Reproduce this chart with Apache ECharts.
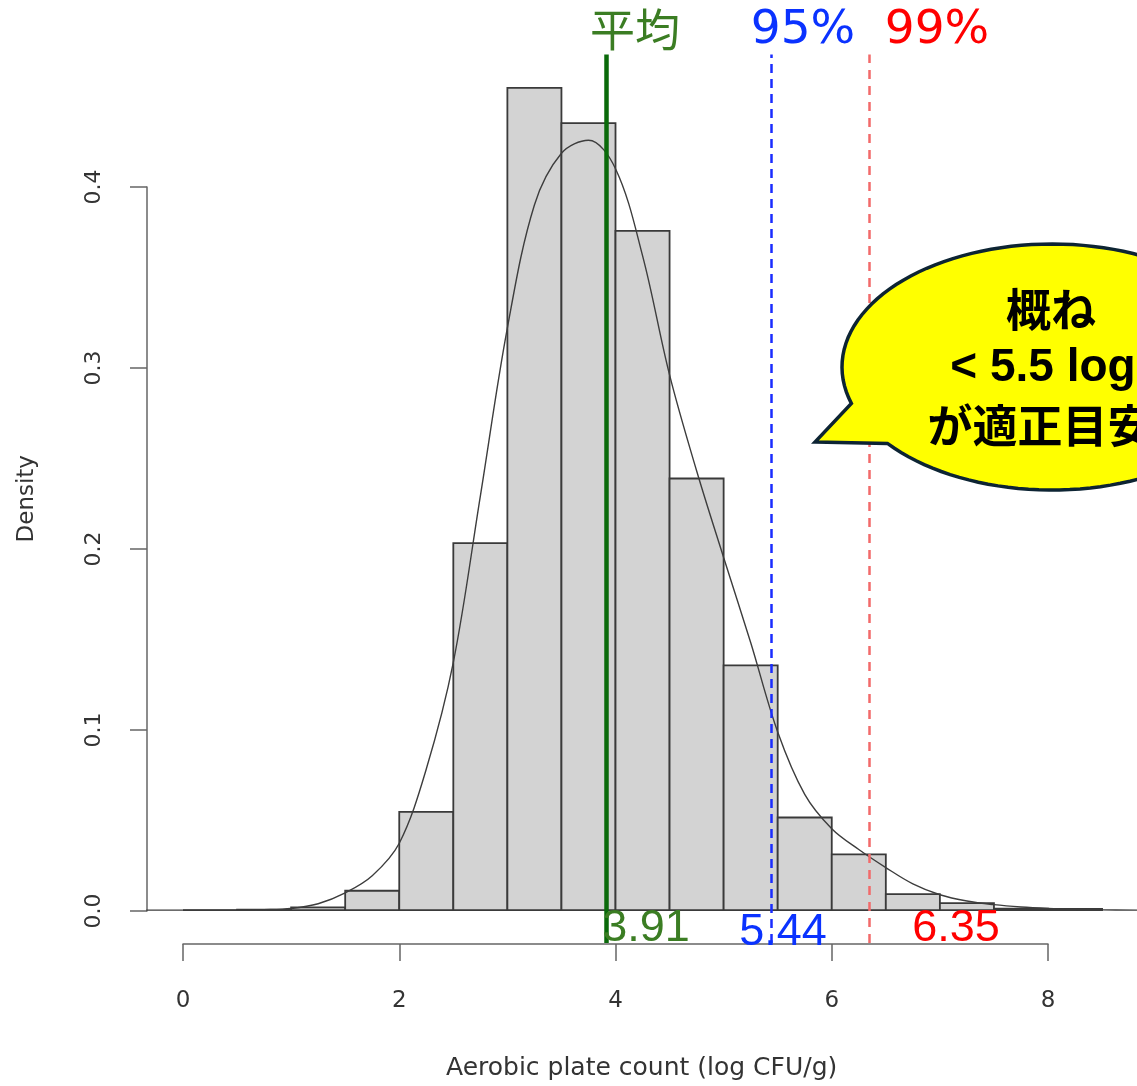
<!DOCTYPE html>
<html>
<head>
<meta charset="utf-8">
<script src="https://cdn.jsdelivr.net/npm/echarts@6/dist/echarts.min.js"></script>
<style>html,body{margin:0;padding:0;background:#fff}#c{width:1137px;height:1086px}</style>
</head>
<body>
<div id="c"></div>
<script>
// ---- data ----
const binStarts = [0, 0.5, 1.0, 1.5, 2.0, 2.5, 3.0, 3.5, 4.0, 4.5, 5.0, 5.5, 6.0, 6.5, 7.0, 7.5, 8.0];
const binWidth = 0.5;
const binDensity = [0, 0.0002, 0.0015, 0.0107, 0.0543, 0.203, 0.4547, 0.4352, 0.3757, 0.2387, 0.1354, 0.0512, 0.0308, 0.0088, 0.0039, 0.0008, 0.0006];

const curveX = [-0.34, 0.5, 0.75, 1.0, 1.25, 1.5, 1.75, 2.0, 2.25, 2.5, 2.75, 3.0, 3.25, 3.5, 3.75, 4.0, 4.25, 4.5, 4.75, 5.0, 5.25, 5.5, 5.75, 6.0, 6.25, 6.5, 6.75, 7.0, 7.25, 7.5, 7.75, 8.0, 8.25, 8.5, 8.823];
const curveY = [0, 0, 0.0002, 0.0009, 0.0035, 0.0095, 0.019, 0.037, 0.078, 0.137, 0.229, 0.322, 0.39, 0.4186, 0.4258, 0.41, 0.362, 0.296, 0.243, 0.195, 0.148, 0.0985, 0.064, 0.045, 0.0335, 0.0235, 0.0145, 0.0085, 0.005, 0.003, 0.0017, 0.0009, 0.0004, 0.0001, 0];

const meanValue = 3.91;
const p95Value = 5.44;
const p99Value = 6.35;

const xTickValues = [0, 2, 4, 6, 8];
const yTickLabels = ['0.0', '0.1', '0.2', '0.3', '0.4'];

const xTitle = 'Aerobic plate count (log CFU/g)';
const yTitle = 'Density';
const bubbleLines = ['概ね', '< 5.5 log', 'が適正目安'];

// ---- build ----
const histData = binStarts.map((s, i) => [s, s + binWidth, binDensity[i]]);
const curveData = curveX.map((x, i) => [x, curveY[i]]);

// speech bubble outline (ellipse with a tail pointing left-down)
function bubblePoints() {
  const cx = 1052, cy = 367, rx = 210, ry = 123;
  const pts = [[815, 442]];
  const a0 = 141.6, a1 = 162.8 - 360;
  const n = 120;
  for (let i = 0; i <= n; i++) {
    const a = (a0 + (a1 - a0) * i / n) * Math.PI / 180;
    pts.push([cx + rx * Math.cos(a), cy + ry * Math.sin(a)]);
  }
  return pts;
}

const chart = echarts.init(document.getElementById('c'), null, {renderer: 'canvas'});

const option = {
  animation: false,
  backgroundColor: '#ffffff',
  grid: [
    {left: 146.24, right: 0, top: 54.5, bottom: 142.1},
    {left: 183, right: 89, top: 187, bottom: 175}
  ],
  xAxis: [
    {
      gridIndex: 0, type: 'value', min: -0.34, max: 8.823,
      axisLine: {show: false}, axisTick: {show: false}, axisLabel: {show: false}, splitLine: {show: false},
      name: xTitle, nameLocation: 'middle', nameGap: 113,
      nameTextStyle: {fontFamily: 'DejaVu Sans', fontSize: 25, color: '#333'}
    },
    {
      gridIndex: 1, type: 'value', min: 0, max: 8, interval: 2, offset: 33,
      axisLine: {show: true, onZero: false, lineStyle: {color: '#666', width: 1.5}},
      axisTick: {show: true, length: 17, lineStyle: {color: '#666', width: 1.5}},
      axisLabel: {fontFamily: 'DejaVu Sans', fontSize: 23, color: '#333', margin: 46,
        formatter: v => xTickValues.indexOf(v) >= 0 ? String(v) : ''},
      splitLine: {show: false}
    }
  ],
  yAxis: [
    {
      gridIndex: 0, type: 'value', min: -0.0182, max: 0.4732,
      axisLine: {show: false}, axisTick: {show: false}, axisLabel: {show: false}, splitLine: {show: false},
      name: yTitle, nameLocation: 'middle', nameGap: 108,
      nameTextStyle: {fontFamily: 'DejaVu Sans', fontSize: 23, color: '#333'}
    },
    {
      gridIndex: 1, type: 'value', min: 0, max: 0.4, interval: 0.1, offset: 36,
      axisLine: {show: true, onZero: false, lineStyle: {color: '#666', width: 1.5}},
      axisTick: {show: true, length: 17, lineStyle: {color: '#666', width: 1.5}},
      axisLabel: {fontFamily: 'DejaVu Sans', fontSize: 22, color: '#333', rotate: 90, margin: 42,
        formatter: v => yTickLabels[Math.round(v * 10)]},
      splitLine: {show: false}
    }
  ],
  series: [
    {
      type: 'custom', xAxisIndex: 0, yAxisIndex: 0, z: 2,
      data: histData,
      renderItem: function (params, api) {
        const p0 = api.coord([api.value(0), 0]);
        const p1 = api.coord([api.value(1), api.value(2)]);
        return {
          type: 'rect',
          shape: {x: p0[0], y: p1[1], width: p1[0] - p0[0], height: p0[1] - p1[1]},
          style: {fill: '#d3d3d3', stroke: '#3a3a3a', lineWidth: 1.8}
        };
      }
    },
    {
      type: 'line', xAxisIndex: 0, yAxisIndex: 0, z: 3,
      data: curveData, smooth: 0.35, showSymbol: false, symbol: 'none',
      lineStyle: {color: '#3d3d3d', width: 1.4}
    },
    {
      type: 'line', xAxisIndex: 0, yAxisIndex: 0, z: 4, data: [],
      markLine: {
        silent: true, symbol: ['none', 'none'], label: {show: false},
        data: [
          {xAxis: p99Value, lineStyle: {color: '#f26a6a', width: 2.5, type: [9, 7]}},
          {xAxis: p95Value, lineStyle: {color: '#1a2cff', width: 2.5, type: [9, 6]}},
          {xAxis: meanValue, lineStyle: {color: '#0a6a0a', width: 4.5, type: 'solid'}}
        ]
      }
    },
    {type: 'line', xAxisIndex: 1, yAxisIndex: 1, data: []}
  ],
  graphic: [
    {type: 'text', z: 50, style: {text: '平均', x: 635, y: 30, textAlign: 'center', textVerticalAlign: 'middle',
      font: '45px "Noto Sans CJK JP"', fill: '#3b7d23'}},
    {type: 'text', z: 50, style: {text: '95%', x: 803, y: 31, textAlign: 'center', textVerticalAlign: 'middle',
      font: '47px "DejaVu Sans"', fill: '#0a32ff'}},
    {type: 'text', z: 50, style: {text: '99%', x: 937, y: 31, textAlign: 'center', textVerticalAlign: 'middle',
      font: '47px "DejaVu Sans"', fill: '#ff0000'}},
    {type: 'text', z: 50, style: {text: meanValue.toFixed(2), x: 646, y: 929, textAlign: 'center', textVerticalAlign: 'middle',
      font: '45px "Liberation Sans"', fill: '#3b7d23'}},
    {type: 'text', z: 50, style: {text: p95Value.toFixed(2), x: 783, y: 933, textAlign: 'center', textVerticalAlign: 'middle',
      font: '45px "Liberation Sans"', fill: '#0a32ff'}},
    {type: 'text', z: 50, style: {text: p99Value.toFixed(2), x: 956, y: 929, textAlign: 'center', textVerticalAlign: 'middle',
      font: '45px "Liberation Sans"', fill: '#ff0000'}},
    {type: 'polygon', z: 60,
      shape: {points: bubblePoints()},
      style: {fill: '#ffff00', stroke: '#0d2433', lineWidth: 3.5}},
    {type: 'text', z: 61, style: {text: bubbleLines[0], x: 1051, y: 310, textAlign: 'center', textVerticalAlign: 'middle',
      font: 'bold 45px "Noto Sans CJK JP"', fill: '#000'}},
    {type: 'text', z: 61, style: {text: bubbleLines[1], x: 1043, y: 368, textAlign: 'center', textVerticalAlign: 'middle',
      font: 'bold 46px "Liberation Sans"', fill: '#000'}},
    {type: 'text', z: 61, style: {text: bubbleLines[2], x: 1040, y: 426, textAlign: 'center', textVerticalAlign: 'middle',
      font: 'bold 45px "Noto Sans CJK JP"', fill: '#000'}}
  ]
};
chart.setOption(option);
</script>
</body>
</html>
